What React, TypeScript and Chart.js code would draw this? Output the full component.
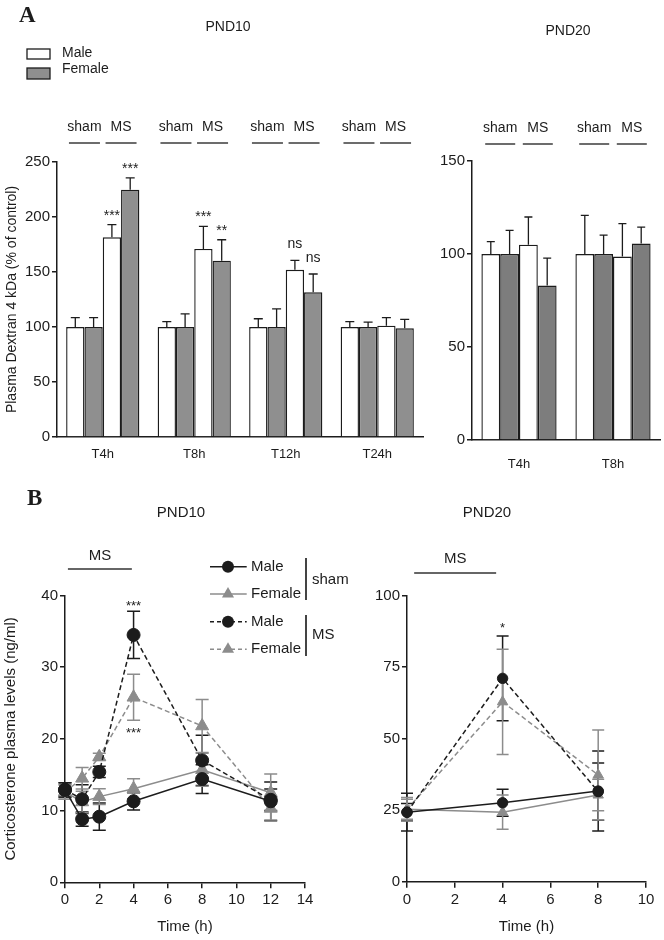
import React, { useEffect, useRef } from 'react';
import { Chart, registerables } from 'chart.js';

Chart.register(...registerables);

const FONT = '"Liberation Sans", Arial, Helvetica, sans-serif';
const SERIF = '"Liberation Serif", "Times New Roman", serif';
const INK = '#1c1c1c';
const GREY_A10 = '#8f8f8f';
const GREY_A20 = '#7d7d7d';
const GREY_LINE = '#8c8c8c';

Chart.defaults.font.family = FONT;
Chart.defaults.color = INK;

// ---------- Panel A : PND10 (bars) ----------
const a10Categories = ['T4h', 'T8h', 'T12h', 'T24h'];
const a10ShamMale = [100, 100, 100, 100];
const a10ShamMaleErr = [8.5, 4.8, 7.5, 4.8];
const a10ShamFemale = [100, 100, 100, 100];
const a10ShamFemaleErr = [8.5, 12, 16.5, 4.4];
const a10MsMale = [181.5, 171, 152, 101.2];
const a10MsMaleErr = [11.5, 20.5, 8.5, 7.3];
const a10MsFemale = [224.8, 160.3, 131.6, 98.8];
const a10MsFemaleErr = [10.7, 19, 16.6, 8.2];
const a10MsMaleSig = ['***', '***', 'ns', ''];
const a10MsFemaleSig = ['***', '**', 'ns', ''];

// ---------- Panel A : PND20 (bars) ----------
const a20Categories = ['T4h', 'T8h'];
const a20ShamMale = [100, 100];
const a20ShamMaleErr = [6.6, 20.8];
const a20ShamFemale = [100, 100];
const a20ShamFemaleErr = [12.7, 10.2];
const a20MsMale = [105, 98.6];
const a20MsMaleErr = [14.9, 17.7];
const a20MsFemale = [83, 105.6];
const a20MsFemaleErr = [14.8, 8.9];

const groupLabels = ['sham', 'MS'];
const sexLabels = ['Male', 'Female'];

// ---------- Panel B : PND10 (lines) ----------
const b10Time = [0, 1, 2, 4, 8, 12];
const b10ShamMale = [12.9, 8.8, 9.15, 11.3, 14.4, 11.3];
const b10ShamMaleErr = [1.0, 1.0, 1.9, 1.2, 2.0, 2.7];
const b10ShamFemale = [12.6, 11.2, 11.95, 13.05, 15.7, 12.5];
const b10ShamFemaleErr = [1.0, 1.5, 1.1, 1.4, 2.3, 2.6];
const b10MsMale = [12.9, 11.6, 15.4, 34.5, 17.0, 11.5];
const b10MsMaleErr = [1.0, 2.0, 0.8, 3.3, 3.5, 1.5];
const b10MsFemale = [12.6, 14.5, 17.5, 25.8, 21.8, 10.3];
const b10MsFemaleErr = [1.0, 1.5, 0.5, 3.2, 3.7, 1.6];
const b10MsMaleSig = ['', '', '', '***', '', ''];
const b10MsFemaleSig = ['', '', '', '***', '', ''];

// ---------- Panel B : PND20 (lines) ----------
const b20Time = [0, 4, 8];
const b20ShamMale = [24.3, 27.6, 31.7];
const b20ShamMaleErr = [6.6, 4.7, 14];
const b20ShamFemale = [25.3, 24.3, 30.3];
const b20ShamFemaleErr = [4.1, 6, 5.5];
const b20MsMale = [24.3, 71.1, 31.5];
const b20MsMaleErr = [3, 14.8, 10];
const b20MsFemale = [25.3, 62.9, 37.3];
const b20MsFemaleErr = [3.5, 18.4, 15.7];
const b20MsMaleSig = ['', '*', ''];

// ---------- helpers ----------
function txt(ctx: any, s: string, x: number, y: number, font: string, align = 'center', baseline = 'middle', color = INK) {
  ctx.save();
  ctx.font = font;
  ctx.fillStyle = color;
  ctx.textAlign = align;
  ctx.textBaseline = baseline;
  ctx.fillText(s, x, y);
  ctx.restore();
}
function seg(ctx: any, x1: number, y1: number, x2: number, y2: number, color = INK, w = 1.3, dash: number[] = []) {
  ctx.save();
  ctx.strokeStyle = color;
  ctx.lineWidth = w;
  ctx.setLineDash(dash);
  ctx.beginPath();
  ctx.moveTo(x1, y1);
  ctx.lineTo(x2, y2);
  ctx.stroke();
  ctx.restore();
}
function marker(ctx: any, style: string, x: number, y: number, r: number, color: string) {
  ctx.save();
  ctx.fillStyle = color;
  ctx.beginPath();
  if (style === 'circle') {
    ctx.arc(x, y, r, 0, Math.PI * 2);
  } else {
    ctx.moveTo(x, y - r);
    ctx.lineTo(x - r * 0.866, y + r * 0.5);
    ctx.lineTo(x + r * 0.866, y + r * 0.5);
    ctx.closePath();
  }
  ctx.fill();
  ctx.restore();
}
function valOf(raw: any) {
  return typeof raw === 'number' ? raw : raw.y;
}

const errorBarPlugin = {
  id: 'errorBars',
  beforeDatasetsDraw(chart: any, _a: any, opts: any) {
    if (opts.mode === 'both') drawErrors(chart, opts);
  },
  afterDatasetsDraw(chart: any, _a: any, opts: any) {
    if (opts.mode === 'up') drawErrors(chart, opts);
  },
};
function drawErrors(chart: any, opts: any) {
  const ctx = chart.ctx;
  const ys = chart.scales.y;
  chart.data.datasets.forEach((ds: any, di: number) => {
    if (!ds.errors) return;
    const meta = chart.getDatasetMeta(di);
    ctx.save();
    ctx.strokeStyle = ds.errColor;
    ctx.lineWidth = opts.width;
    ctx.setLineDash([]);
    meta.data.forEach((el: any, i: number) => {
      const v = valOf(ds.data[i]);
      const e = ds.errors[i];
      if (!e) return;
      const x = el.x;
      const yTop = ys.getPixelForValue(v + e);
      const yBase = opts.mode === 'up' ? ys.getPixelForValue(v) : ys.getPixelForValue(v - e);
      ctx.beginPath();
      ctx.moveTo(x, yBase);
      ctx.lineTo(x, yTop);
      ctx.moveTo(x - opts.cap, yTop);
      ctx.lineTo(x + opts.cap, yTop);
      if (opts.mode === 'both') {
        ctx.moveTo(x - opts.cap, yBase);
        ctx.lineTo(x + opts.cap, yBase);
      }
      ctx.stroke();
    });
    ctx.restore();
  });
}

function drawBarGroupLabels(chart: any, textY: number, lineY: number, half: number) {
  const ctx = chart.ctx;
  const n = chart.data.labels.length;
  for (let i = 0; i < n; i++) {
    const xs = [0, 1, 2, 3].map((d) => chart.getDatasetMeta(d).data[i].x);
    const centers = [(xs[0] + xs[1]) / 2, (xs[2] + xs[3]) / 2];
    centers.forEach((c, k) => {
      txt(ctx, groupLabels[k], c, textY, `14px ${FONT}`);
      seg(ctx, c - half, lineY, c + half, lineY, INK, 1.3);
    });
  }
}
function drawBarSig(chart: any) {
  const ctx = chart.ctx;
  const ys = chart.scales.y;
  chart.data.datasets.forEach((ds: any, di: number) => {
    if (!ds.sig) return;
    const meta = chart.getDatasetMeta(di);
    ds.sig.forEach((s: string, i: number) => {
      if (!s) return;
      const top = ys.getPixelForValue(ds.data[i] + ds.errors[i]);
      const isStar = s.indexOf('*') >= 0;
      txt(ctx, s, meta.data[i].x, isStar ? top - 5 : top - 12, `14px ${FONT}`, 'center', 'alphabetic');
    });
  });
}

function barDatasets(sm: number[], smE: number[], sf: number[], sfE: number[], mm: number[], mmE: number[], mf: number[], mfE: number[], grey: string, mmSig?: string[], mfSig?: string[]) {
  const base = { borderColor: INK, borderWidth: 1.4, errColor: INK, categoryPercentage: 0.8, barPercentage: 1 };
  return [
    { ...base, label: 'sham Male', data: sm, errors: smE, backgroundColor: '#ffffff' },
    { ...base, label: 'sham Female', data: sf, errors: sfE, backgroundColor: grey },
    { ...base, label: 'MS Male', data: mm, errors: mmE, backgroundColor: '#ffffff', sig: mmSig },
    { ...base, label: 'MS Female', data: mf, errors: mfE, backgroundColor: grey, sig: mfSig },
  ];
}

function barScales(yMax: number, yW: number, xH: number, xPad: number, title?: string) {
  return {
    x: {
      grid: { display: false },
      border: { display: true, color: INK, width: 1.5 },
      ticks: { color: INK, font: { size: 13 }, padding: xPad },
      afterFit: (s: any) => { s.height = xH; },
    },
    y: {
      min: 0,
      max: yMax,
      ticks: { stepSize: 50, color: INK, font: { size: 15 }, padding: 2 },
      grid: { drawOnChartArea: false, drawTicks: true, tickLength: 5, color: INK, lineWidth: 1.5 },
      border: { display: true, color: INK, width: 1.5 },
      title: title
        ? { display: true, text: title, color: INK, font: { size: 14 }, padding: { top: 4, bottom: 0 } }
        : { display: false },
      afterFit: (s: any) => { s.width = yW; },
    },
  };
}

function makeA10() {
  const annot = {
    id: 'annotA10',
    afterDraw(chart: any) {
      const ctx = chart.ctx;
      txt(ctx, 'A', 19, 22, `bold 23px ${SERIF}`, 'left', 'alphabetic');
      txt(ctx, 'PND10', 228, 27, `14px ${FONT}`);
      ctx.save();
      ctx.strokeStyle = INK;
      ctx.lineWidth = 1.3;
      ctx.fillStyle = '#ffffff';
      ctx.fillRect(27, 49, 23, 10);
      ctx.strokeRect(27, 49, 23, 10);
      ctx.fillStyle = GREY_A10;
      ctx.fillRect(27, 68, 23, 11);
      ctx.strokeRect(27, 68, 23, 11);
      ctx.restore();
      txt(ctx, sexLabels[0], 62, 53, `14px ${FONT}`, 'left');
      txt(ctx, sexLabels[1], 62, 69, `14px ${FONT}`, 'left');
      drawBarGroupLabels(chart, 127, 143, 15.5);
      drawBarSig(chart);
    },
  };
  return {
    type: 'bar',
    data: {
      labels: a10Categories,
      datasets: barDatasets(a10ShamMale, a10ShamMaleErr, a10ShamFemale, a10ShamFemaleErr, a10MsMale, a10MsMaleErr, a10MsFemale, a10MsFemaleErr, GREY_A10, a10MsMaleSig, a10MsFemaleSig),
    },
    options: {
      responsive: false,
      animation: false,
      events: [],
      layout: { padding: { top: 162, right: 17, bottom: 0, left: 0 } },
      plugins: { legend: { display: false }, tooltip: { enabled: false }, errorBars: { mode: 'up', cap: 4.5, width: 1.3 } },
      scales: barScales(250, 57, 33, 2, 'Plasma Dextran 4 kDa (% of control)'),
    },
    plugins: [errorBarPlugin, annot],
  };
}

function makeA20() {
  const annot = {
    id: 'annotA20',
    afterDraw(chart: any) {
      const ctx = chart.ctx;
      txt(ctx, 'PND20', 138, 31, `14px ${FONT}`);
      drawBarGroupLabels(chart, 128, 144, 15);
    },
  };
  return {
    type: 'bar',
    data: {
      labels: a20Categories,
      datasets: barDatasets(a20ShamMale, a20ShamMaleErr, a20ShamFemale, a20ShamFemaleErr, a20MsMale, a20MsMaleErr, a20MsFemale, a20MsFemaleErr, GREY_A20),
    },
    options: {
      responsive: false,
      animation: false,
      events: [],
      layout: { padding: { top: 161, right: 4, bottom: 0, left: 0 } },
      plugins: { legend: { display: false }, tooltip: { enabled: false }, errorBars: { mode: 'up', cap: 4, width: 1.3 } },
      scales: barScales(150, 42, 30, 9),
    },
    plugins: [errorBarPlugin, annot],
  };
}

function lineDs(label: string, xs: number[], ys: number[], errs: number[], color: string, dash: number[], style: string, radius: number, sig?: string[], sigBelow?: boolean) {
  return {
    label,
    data: xs.map((x, i) => ({ x, y: ys[i] })),
    errors: errs,
    errColor: color,
    showLine: true,
    borderColor: color,
    borderWidth: 1.5,
    borderDash: dash,
    pointStyle: style,
    pointRadius: radius,
    pointBackgroundColor: color,
    pointBorderColor: color,
    pointBorderWidth: 1,
    clip: false,
    sig,
    sigBelow,
  };
}

function lineScales(xMax: number, yMax: number, yStep: number, yW: number, xH: number, yTitle?: string) {
  return {
    x: {
      type: 'linear',
      min: 0,
      max: xMax,
      ticks: { stepSize: 2, color: INK, font: { size: 15 }, padding: 3 },
      grid: { drawOnChartArea: false, drawTicks: true, tickLength: 6, color: INK, lineWidth: 1.5 },
      border: { display: true, color: INK, width: 1.5 },
      title: { display: true, text: 'Time (h)', color: INK, font: { size: 15 }, padding: { top: 0, bottom: 4 } },
      afterFit: (s: any) => { s.height = xH; },
    },
    y: {
      type: 'linear',
      min: 0,
      max: yMax,
      ticks: { stepSize: yStep, color: INK, font: { size: 15 }, padding: 2 },
      grid: { drawOnChartArea: false, drawTicks: true, tickLength: 5, color: INK, lineWidth: 1.5 },
      border: { display: true, color: INK, width: 1.5 },
      title: yTitle
        ? { display: true, text: yTitle, color: INK, font: { size: 15 }, padding: { top: 2, bottom: 0 } }
        : { display: false },
      afterFit: (s: any) => { s.width = yW; },
    },
  };
}

function drawLineSig(chart: any, gap: number) {
  const ctx = chart.ctx;
  const ys = chart.scales.y;
  chart.data.datasets.forEach((ds: any, di: number) => {
    if (!ds.sig) return;
    const meta = chart.getDatasetMeta(di);
    ds.sig.forEach((s: string, i: number) => {
      if (!s) return;
      const v = ds.data[i].y;
      const e = ds.errors[i];
      const x = meta.data[i].x;
      if (ds.sigBelow) {
        const bot = ys.getPixelForValue(v - e);
        txt(ctx, s, x, bot + gap + 7.6, `13px ${FONT}`, 'center', 'alphabetic');
      } else {
        const top = ys.getPixelForValue(v + e);
        txt(ctx, s, x, top - gap + 7.6, `13px ${FONT}`, 'center', 'alphabetic');
      }
    });
  });
}

function makeB10() {
  const annot = {
    id: 'annotB10',
    afterDraw(chart: any) {
      const ctx = chart.ctx;
      const xs = chart.scales.x;
      txt(ctx, 'B', 27, 35, `bold 23px ${SERIF}`, 'left', 'alphabetic');
      txt(ctx, 'PND10', 181, 43, `15px ${FONT}`);
      const x1 = xs.getPixelForValue(0.17);
      const x2 = xs.getPixelForValue(3.9);
      txt(ctx, 'MS', (x1 + x2) / 2, 86, `15px ${FONT}`);
      seg(ctx, x1, 99, x2, 99, '#333', 1.3);
      // legend
      const rows = [
        { y: 96.7, color: INK, dash: [], style: 'circle', r: 6, label: sexLabels[0] },
        { y: 124, color: GREY_LINE, dash: [], style: 'triangle', r: 7, label: sexLabels[1] },
        { y: 151.7, color: INK, dash: [4, 3], style: 'circle', r: 6, label: sexLabels[0] },
        { y: 179.3, color: GREY_LINE, dash: [4, 3], style: 'triangle', r: 7, label: sexLabels[1] },
      ];
      rows.forEach((row) => {
        seg(ctx, 210, row.y, 246.7, row.y, row.color, 1.5, row.dash);
        marker(ctx, row.style, 228, row.y, row.r, row.color);
        txt(ctx, row.label, 251, row.y, `15px ${FONT}`, 'left');
      });
      seg(ctx, 306, 88, 306, 130, '#444', 2);
      seg(ctx, 306, 145, 306, 186, '#444', 2);
      txt(ctx, groupLabels[0], 312, 110, `15px ${FONT}`, 'left');
      txt(ctx, groupLabels[1], 312, 165, `15px ${FONT}`, 'left');
      drawLineSig(chart, 9);
    },
  };
  return {
    type: 'scatter',
    data: {
      datasets: [
        lineDs('sham Male', b10Time, b10ShamMale, b10ShamMaleErr, INK, [], 'circle', 6.5),
        lineDs('MS Male', b10Time, b10MsMale, b10MsMaleErr, INK, [5, 3], 'circle', 6.5, b10MsMaleSig, false),
        lineDs('sham Female', b10Time, b10ShamFemale, b10ShamFemaleErr, GREY_LINE, [], 'triangle', 7.5),
        lineDs('MS Female', b10Time, b10MsFemale, b10MsFemaleErr, GREY_LINE, [5, 3], 'triangle', 7.5, b10MsFemaleSig, true),
      ],
    },
    options: {
      responsive: false,
      animation: false,
      events: [],
      layout: { padding: { top: 125.5, right: 55, bottom: 0, left: 0 } },
      plugins: { legend: { display: false }, tooltip: { enabled: false }, errorBars: { mode: 'both', cap: 6.5, width: 1.5 } },
      scales: lineScales(14, 40, 10, 65, 57.7, 'Corticosterone plasma levels (ng/ml)'),
    },
    plugins: [errorBarPlugin, annot],
  };
}

function makeB20() {
  const annot = {
    id: 'annotB20',
    afterDraw(chart: any) {
      const ctx = chart.ctx;
      const xs = chart.scales.x;
      txt(ctx, 'PND20', 127, 43, `15px ${FONT}`);
      const x1 = xs.getPixelForValue(0.3);
      const x2 = xs.getPixelForValue(3.73);
      txt(ctx, 'MS', (x1 + x2) / 2, 89, `15px ${FONT}`);
      seg(ctx, x1, 103, x2, 103, '#333', 1.3);
      drawLineSig(chart, 12);
    },
  };
  return {
    type: 'scatter',
    data: {
      datasets: [
        lineDs('sham Male', b20Time, b20ShamMale, b20ShamMaleErr, INK, [], 'circle', 5.2),
        lineDs('MS Male', b20Time, b20MsMale, b20MsMaleErr, INK, [5, 3], 'circle', 5.2, b20MsMaleSig, false),
        lineDs('sham Female', b20Time, b20ShamFemale, b20ShamFemaleErr, GREY_LINE, [], 'triangle', 6),
        lineDs('MS Female', b20Time, b20MsFemale, b20MsFemaleErr, GREY_LINE, [5, 3], 'triangle', 6),
      ],
    },
    options: {
      responsive: false,
      animation: false,
      events: [],
      layout: { padding: { top: 125.7, right: 18, bottom: 0, left: 0 } },
      plugins: { legend: { display: false }, tooltip: { enabled: false }, errorBars: { mode: 'both', cap: 6, width: 1.5 } },
      scales: lineScales(10, 100, 25, 47, 58.3),
    },
    plugins: [errorBarPlugin, annot],
  };
}

function ChartCanvas({ left, top, width, height, make }: { left: number; top: number; width: number; height: number; make: () => any }) {
  const ref = useRef<HTMLCanvasElement>(null);
  useEffect(() => {
    const chart = new Chart(ref.current as HTMLCanvasElement, make());
    return () => chart.destroy();
  }, []);
  return (
    <canvas
      ref={ref}
      width={width}
      height={height}
      style={{ position: 'absolute', left, top, width, height }}
    />
  );
}

export default function App() {
  return (
    <div style={{ position: 'absolute', left: 0, top: 0, width: 664, height: 940, background: '#ffffff', overflow: 'hidden' }}>
      <ChartCanvas left={0} top={0} width={440} height={470} make={makeA10} />
      <ChartCanvas left={430} top={0} width={234} height={470} make={makeA20} />
      <ChartCanvas left={0} top={470} width={360} height={470} make={makeB10} />
      <ChartCanvas left={360} top={470} width={304} height={470} make={makeB20} />
    </div>
  );
}
